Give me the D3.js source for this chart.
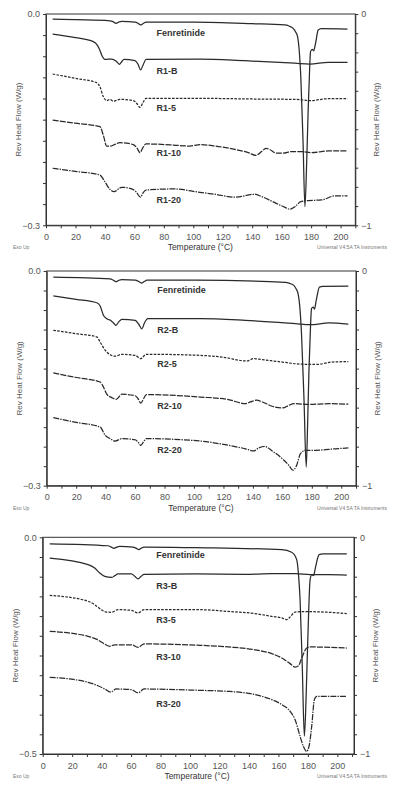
<!DOCTYPE html>
<html><head><meta charset="utf-8">
<script src="https://cdn.jsdelivr.net/npm/d3@7"></script>
<style>html,body{margin:0;padding:0;background:#fff;}svg{display:block;}</style>
</head><body><svg id="c" width="400" height="795"></svg>
<script>
// ---------------- DATA (values in right-axis units, 0 .. -1; temperature in °C) ----------------
const seriesNames1 = ["Fenretinide","R1-B","R1-5","R1-10","R1-20"];
const seriesNames2 = ["Fenretinide","R2-B","R2-5","R2-10","R2-20"];
const seriesNames3 = ["Fenretinide","R3-B","R3-5","R3-10","R3-20"];

const p1Fen = [[4.5,-0.024],[20,-0.027],[43.4,-0.032],[45.5,-0.036],[47.5,-0.044],[49.5,-0.038],[51.4,-0.035],[60.4,-0.038],[62.5,-0.044],[64.2,-0.052],[66,-0.045],[67.9,-0.039],[101,-0.039],[140,-0.046],[162,-0.052],[165,-0.057],[167.8,-0.068],[169.5,-0.085],[170.8,-0.107],[172,-0.18],[173,-0.297],[174.5,-0.6],[175.8,-0.912],[177,-0.7],[178,-0.454],[179,-0.26],[179.6,-0.178],[180.8,-0.167],[181.7,-0.174],[183,-0.139],[184.8,-0.076],[187,-0.069],[204.7,-0.071]];
const p1B = [[4.5,-0.095],[20,-0.112],[32.1,-0.131],[34.8,-0.147],[36.5,-0.17],[37.8,-0.194],[40,-0.215],[44.6,-0.213],[47.5,-0.222],[49.8,-0.238],[51.5,-0.225],[52.9,-0.215],[60.4,-0.221],[62.5,-0.238],[64.2,-0.265],[66,-0.24],[67.9,-0.215],[104.5,-0.213],[135,-0.221],[169,-0.233],[179.2,-0.237],[191.6,-0.229],[204.7,-0.229]];
const p1R5 = [[4.5,-0.284],[20,-0.305],[34.4,-0.325],[36.6,-0.344],[38.9,-0.391],[41.2,-0.41],[43.4,-0.404],[45.7,-0.413],[50.2,-0.404],[59.3,-0.41],[61.8,-0.425],[63.8,-0.442],[65.8,-0.42],[67.9,-0.399],[100,-0.399],[150,-0.403],[170,-0.404],[179.2,-0.41],[191.6,-0.401],[204.7,-0.401]];
const p1R10 = [[4.5,-0.502],[20,-0.517],[36.6,-0.533],[38.9,-0.573],[41.2,-0.625],[43.9,-0.625],[45.8,-0.62],[50.2,-0.609],[59.3,-0.618],[61.8,-0.635],[63.8,-0.656],[65.8,-0.632],[67.9,-0.615],[86.4,-0.62],[97.7,-0.625],[104.5,-0.618],[114.7,-0.625],[128.3,-0.641],[137.3,-0.656],[142.5,-0.669],[146.4,-0.651],[149.3,-0.636],[151.8,-0.641],[156.5,-0.659],[161,-0.659],[166.7,-0.651],[173.4,-0.651],[180.3,-0.656],[191.6,-0.648],[204.7,-0.648]];
const p1R20 = [[4.5,-0.73],[20,-0.745],[36.6,-0.762],[40,-0.794],[43.4,-0.83],[46.1,-0.841],[51.4,-0.82],[57,-0.825],[61.1,-0.841],[64.2,-0.867],[66,-0.845],[67.9,-0.833],[86.4,-0.828],[104.5,-0.844],[114.7,-0.853],[128.3,-0.867],[141.8,-0.853],[146.4,-0.864],[155.4,-0.893],[162.2,-0.915],[165.6,-0.924],[169,-0.912],[173,-0.888],[178,-0.883],[187,-0.88],[196.1,-0.861],[204.7,-0.861]];

const p2Fen = [[4.5,-0.028],[43.1,-0.037],[45,-0.042],[47.1,-0.05],[49,-0.043],[51.1,-0.04],[60.1,-0.043],[62.5,-0.049],[64.6,-0.056],[66.5,-0.048],[68,-0.043],[100.9,-0.043],[162.1,-0.053],[165,-0.058],[167.8,-0.067],[169.5,-0.085],[170.7,-0.106],[172,-0.18],[173,-0.292],[174.7,-0.6],[176.2,-0.913],[177.2,-0.7],[178,-0.478],[179,-0.28],[179.8,-0.175],[180.9,-0.168],[181.8,-0.177],[183,-0.137],[185.2,-0.075],[187.5,-0.072],[204.8,-0.071]];
const p2B = [[4.5,-0.116],[20,-0.132],[34,-0.148],[36.3,-0.163],[38.5,-0.206],[40.8,-0.222],[43.5,-0.23],[45.5,-0.243],[47.1,-0.253],[49,-0.236],[51,-0.225],[60.1,-0.23],[62.5,-0.248],[64.6,-0.269],[66.5,-0.24],[68.7,-0.222],[104.3,-0.222],[134.9,-0.23],[168.9,-0.245],[179.2,-0.25],[191.6,-0.242],[204.8,-0.248]];
const p2R5 = [[4.5,-0.276],[20,-0.292],[34,-0.307],[36.3,-0.331],[39.7,-0.369],[43.1,-0.39],[46.4,-0.397],[51,-0.388],[60.1,-0.393],[63.9,-0.408],[67.6,-0.388],[104.3,-0.393],[119,-0.401],[136,-0.419],[140.6,-0.408],[146.4,-0.413],[159.9,-0.424],[168.9,-0.432],[179.2,-0.435],[183.7,-0.435],[193.9,-0.424],[204.8,-0.422]];
const p2R10 = [[4.5,-0.475],[20,-0.496],[36.3,-0.517],[38.5,-0.54],[40.8,-0.574],[44.2,-0.59],[47.1,-0.598],[51,-0.574],[60.1,-0.581],[62,-0.595],[63.9,-0.615],[65.8,-0.595],[67.6,-0.576],[104.3,-0.587],[123.5,-0.599],[134.9,-0.618],[138.3,-0.61],[142.4,-0.602],[146.4,-0.61],[153.1,-0.63],[160.3,-0.638],[164.4,-0.626],[167.8,-0.618],[178,-0.621],[191.6,-0.618],[204.8,-0.62]];
const p2R20 = [[4.5,-0.683],[20,-0.705],[36.3,-0.727],[39.7,-0.765],[43.1,-0.781],[46.4,-0.792],[51,-0.781],[60.1,-0.786],[62,-0.797],[63.9,-0.812],[65.8,-0.795],[67.6,-0.781],[104.3,-0.792],[123.5,-0.812],[134.9,-0.828],[140.6,-0.838],[144,-0.824],[148,-0.817],[153.1,-0.838],[159.9,-0.874],[164.4,-0.905],[167.1,-0.928],[169.4,-0.91],[172.3,-0.851],[175.7,-0.835],[182.5,-0.835],[196.1,-0.828],[204.8,-0.824]];

const p3Fen = [[4.75,-0.03],[44.3,-0.039],[46.3,-0.044],[48.4,-0.051],[50.3,-0.045],[52.3,-0.042],[61.3,-0.045],[63.3,-0.05],[65.2,-0.057],[67,-0.05],[68.8,-0.045],[103.4,-0.048],[162.3,-0.057],[169,-0.069],[172.4,-0.103],[173.6,-0.17],[174.7,-0.288],[176.2,-0.6],[177.6,-0.918],[178.5,-0.8],[179.4,-0.595],[180.5,-0.35],[181.5,-0.196],[182.6,-0.172],[183.8,-0.177],[185.3,-0.134],[187.6,-0.08],[190.5,-0.076],[206.4,-0.076]];
const p3B = [[4.75,-0.096],[30.8,-0.126],[35.3,-0.142],[38.7,-0.165],[42.1,-0.18],[47,-0.185],[49,-0.177],[51.1,-0.169],[60.2,-0.169],[62.5,-0.18],[64.7,-0.192],[66.8,-0.18],[68.8,-0.171],[103.4,-0.169],[137.3,-0.171],[155.5,-0.168],[171.3,-0.168],[181.5,-0.172],[193.9,-0.172],[206.4,-0.174]];
const p3R5 = [[4.75,-0.268],[30.8,-0.295],[35.3,-0.311],[39.8,-0.334],[43.2,-0.345],[46.6,-0.346],[51.1,-0.334],[60.2,-0.337],[64.7,-0.349],[68.8,-0.334],[105.4,-0.334],[126,-0.342],[144.1,-0.352],[155.5,-0.365],[162.3,-0.372],[165.6,-0.38],[167.9,-0.368],[171.3,-0.345],[178,-0.343],[193.9,-0.346],[206.4,-0.352]];
const p3R10 = [[4.75,-0.434],[30.8,-0.457],[36.4,-0.47],[40.9,-0.488],[45.5,-0.503],[48.9,-0.496],[60.2,-0.496],[64.7,-0.508],[68.8,-0.492],[105.4,-0.498],[126,-0.506],[144.1,-0.519],[155.5,-0.537],[162.3,-0.557],[167.9,-0.583],[171.3,-0.599],[173.6,-0.593],[175.8,-0.557],[179.2,-0.511],[181.5,-0.506],[206.4,-0.511]];
const p3R20 = [[4.75,-0.646],[30.8,-0.669],[37.5,-0.685],[42.1,-0.7],[46.1,-0.714],[50,-0.7],[60.2,-0.703],[64.7,-0.718],[68.8,-0.7],[105.4,-0.706],[126,-0.711],[144.1,-0.726],[155.5,-0.749],[162.3,-0.772],[167.9,-0.803],[171.3,-0.842],[174.7,-0.918],[176.9,-0.964],[179.2,-0.988],[180.8,-0.964],[182.6,-0.872],[184.4,-0.749],[186,-0.734],[206.4,-0.734]];

// label anchors [temperature, value]
const labelPos1 = [[75,-0.104],[75,-0.284],[75,-0.461],[75,-0.674],[75,-0.896]];
const labelPos2 = [[75,-0.104],[75,-0.287],[75,-0.445],[75,-0.643],[75,-0.846]];
const labelPos3 = [[77,-0.097],[77,-0.239],[77,-0.394],[77,-0.566],[77,-0.781]];

const xTickValues = [0,10,20,30,40,50,60,70,80,90,100,110,120,130,140,150,160,170,180,190,200,210];
const leftAxisMin = [-0.3, -0.3, -0.5];
const rightAxisMin = -1;
const yAxisTitle = "Rev Heat Flow (W/g)";
const xAxisTitle = "Temperature (°C)";
const footLeft = "Exo Up";
const footRight = "Universal V4.5A TA Instruments";

// ---------------- DRAW ----------------
const svg = d3.select("#c");
const FONT = "'Liberation Sans', Arial, sans-serif";
const dashes = [null, null, "2.6,1.3", "6,1.2", "6,1.1,1.4,1.1"];

const panels = [
  {series:[p1Fen,p1B,p1R5,p1R10,p1R20], names:seriesNames1, labels:labelPos1, lmin:leftAxisMin[0], lticks:10, rticks:11,
   x0:46, x1:355.3, y0:14, y1:225.3, xmax:210},
  {series:[p2Fen,p2B,p2R5,p2R10,p2R20], names:seriesNames2, labels:labelPos2, lmin:leftAxisMin[1], lticks:11, rticks:11,
   x0:46.7, x1:356, y0:271, y1:485.7, xmax:210},
  {series:[p3Fen,p3B,p3R5,p3R10,p3R20], names:seriesNames3, labels:labelPos3, lmin:leftAxisMin[2], lticks:11, rticks:11,
   x0:42.7, x1:354, y0:537.3, y1:754, xmax:211.3}
];

panels.forEach(p => {
  const g = svg.append("g");
  const x = d3.scaleLinear().domain([0, p.xmax]).range([p.x0, p.x1]);
  const y = d3.scaleLinear().domain([rightAxisMin, 0]).range([p.y1, p.y0]);
  const yl = d3.scaleLinear().domain([p.lmin, 0]).range([p.y1, p.y0]);

  g.append("rect").attr("x", p.x0).attr("y", p.y0).attr("width", p.x1 - p.x0).attr("height", p.y1 - p.y0)
    .attr("fill", "none").attr("stroke", "#333").attr("stroke-width", 1);

  const xa = g.append("g").attr("transform", `translate(0,${p.y1})`)
    .call(d3.axisBottom(x).tickValues(xTickValues).tickSize(3).tickSizeOuter(0)
      .tickFormat(d => (d % 20 === 0 && d <= 200) ? d : ""));
  xa.select(".domain").attr("stroke", "#333");
  xa.selectAll(".tick line").attr("stroke", "#333");
  xa.selectAll("text").attr("font-family", FONT).attr("font-size", 9).attr("fill", "#555").attr("dy", "0.95em");

  const lt = d3.range(p.lticks + 1).map(i => p.lmin * i / p.lticks);
  const la = g.append("g").attr("transform", `translate(${p.x0},0)`)
    .call(d3.axisLeft(yl).tickValues(lt).tickSize(3).tickSizeOuter(0)
      .tickFormat((d, i) => i === 0 || i === lt.length - 1 ? d3.format(".1f")(d) : ""));
  la.select(".domain").attr("stroke", "#333");
  la.selectAll(".tick line").attr("stroke", "#333");
  la.selectAll("text").attr("font-family", FONT).attr("font-size", 9).attr("fill", "#555");

  const rt = d3.range(p.rticks + 1).map(i => rightAxisMin * i / p.rticks);
  const ra = g.append("g").attr("transform", `translate(${p.x1},0)`)
    .call(d3.axisRight(y).tickValues(rt).tickSize(3).tickSizeOuter(0)
      .tickFormat((d, i) => i === 0 || i === rt.length - 1 ? d3.format("d")(d) : ""));
  ra.select(".domain").attr("stroke", "#333");
  ra.selectAll(".tick line").attr("stroke", "#333");
  ra.selectAll("text").attr("font-family", FONT).attr("font-size", 9).attr("fill", "#555");

  const ym = (p.y0 + p.y1) / 2;
  g.append("text").attr("transform", `translate(${p.x0 - 25},${ym}) rotate(-90)`).attr("text-anchor", "middle")
    .attr("font-family", FONT).attr("font-size", 8).attr("fill", "#555").text(yAxisTitle);
  g.append("text").attr("transform", `translate(${p.x1 + 24},${ym}) rotate(-90)`).attr("text-anchor", "middle")
    .attr("font-family", FONT).attr("font-size", 8).attr("fill", "#555").text(yAxisTitle);
  g.append("text").attr("x", x(100) + 7).attr("y", p.y1 + 25).attr("text-anchor", "middle")
    .attr("font-family", FONT).attr("font-size", 8.5).attr("fill", "#333").text(xAxisTitle);
  g.append("text").attr("x", 13).attr("y", p.y1 + 24).attr("font-family", FONT).attr("font-size", 5)
    .attr("fill", "#777").text(footLeft);
  g.append("text").attr("x", 387).attr("y", p.y1 + 24).attr("text-anchor", "end").attr("font-family", FONT)
    .attr("font-size", 5).attr("fill", "#777").text(footRight);

  const line = d3.line().x(d => x(d[0])).y(d => y(d[1])).curve(d3.curveMonotoneX);
  p.series.forEach((s, i) => {
    g.append("path").datum(s).attr("d", line).attr("fill", "none").attr("stroke", "#2a2a2a")
      .attr("stroke-width", 1.25).attr("stroke-dasharray", dashes[i]).attr("stroke-linejoin", "round");
  });

  p.names.forEach((n, i) => {
    g.append("text").attr("x", x(p.labels[i][0])).attr("y", y(p.labels[i][1]))
      .attr("font-family", FONT).attr("font-weight", "bold").attr("font-size", 9).attr("fill", "#333").text(n);
  });
});
</script></body></html>
